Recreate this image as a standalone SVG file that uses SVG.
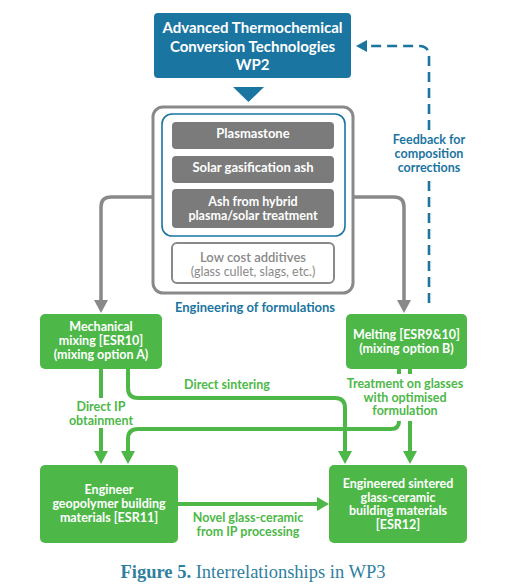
<svg xmlns="http://www.w3.org/2000/svg" width="521" height="586" viewBox="0 0 521 586">
<style>
.t{font-family:Lato,"Open Sans","Liberation Sans",sans-serif;font-weight:700;text-anchor:middle}
.w{fill:#fff;font-size:12.5px}
.g{fill:#4db848;font-size:12.5px}
.b{fill:#1b75a1;font-size:12.5px}
.green{fill:#4db848}
.gl{fill:none;stroke:#4db848;stroke-width:4}
.gr{fill:none;stroke:#898989;stroke-width:3.5}
.db{fill:none;stroke:#1b75a1;stroke-width:2.6;stroke-dasharray:10 6}
</style>
<rect width="521" height="586" fill="#fff"/>
<g id="wp2">
<rect x="154" y="13" width="197" height="65" rx="4" fill="#1b75a1"/>
<text class="t w" style="font-size:15px" x="252.5" y="33">Advanced Thermochemical</text>
<text class="t w" style="font-size:15px" x="252.5" y="52">Conversion Technologies</text>
<text class="t w" style="font-size:15px" x="252.5" y="70">WP2</text>
<polygon points="233,87 264,87 248.5,102" fill="#1b75a1"/>
</g>
<g id="formulations">
<rect x="153" y="107" width="200" height="186" rx="10" fill="#fff" stroke="#898989" stroke-width="3"/>
<rect x="162" y="114" width="183" height="122" rx="10" fill="none" stroke="#1b75a1" stroke-width="1.6"/>
<rect x="172" y="122" width="162" height="27" rx="4" fill="#7b7b7b"/>
<text class="t w" x="253" y="138" style="font-size:13px">Plasmastone</text>
<rect x="172" y="156" width="162" height="27" rx="4" fill="#7b7b7b"/>
<text class="t w" x="253" y="172" style="font-size:13px">Solar gasification ash</text>
<rect x="172" y="189" width="162" height="39" rx="4" fill="#7b7b7b"/>
<text class="t w" x="253" y="206">Ash from hybrid</text>
<text class="t w" x="253" y="220">plasma/solar treatment</text>
<rect x="172" y="243" width="162" height="40" rx="5" fill="#fff" stroke="#898989" stroke-width="2"/>
<text class="t" x="253" y="262" style="fill:#898989;font-size:13px;font-weight:600">Low cost additives</text>
<text class="t" x="253" y="276" style="fill:#898989;font-size:12.5px;font-weight:400">(glass cullet, slags, etc.)</text>
<text class="t b" x="255" y="312" style="font-size:13px">Engineering of formulations</text>
</g>
<g id="mech">
<rect x="40" y="314" width="122" height="55" rx="5" class="green"/>
<text class="t w" x="101" y="331">Mechanical</text>
<text class="t w" x="101" y="345">mixing [ESR10]</text>
<text class="t w" x="101" y="359">(mixing option A)</text>
</g>
<g id="melt">
<rect x="346" y="314" width="121" height="55" rx="5" class="green"/>
<text class="t w" x="406.5" y="339">Melting [ESR9&amp;10]</text>
<text class="t w" x="406.5" y="353">(mixing option B)</text>
</g>
<g id="esr11">
<rect x="40" y="465" width="138" height="78" rx="5" class="green"/>
<text class="t w" x="109" y="494">Engineer</text>
<text class="t w" x="109" y="508">geopolymer building</text>
<text class="t w" x="109" y="522">materials [ESR11]</text>
</g>
<g id="esr12">
<rect x="329" y="465" width="138" height="78" rx="5" class="green"/>
<text class="t w" x="398" y="488">Engineered sintered</text>
<text class="t w" x="398" y="501.5">glass-ceramic</text>
<text class="t w" x="398" y="515">building materials</text>
<text class="t w" x="398" y="528.5">[ESR12]</text>
</g>
<g id="connectors">
<path class="gr" d="M153,197 H111 Q101,197 101,207 V301"/>
<polygon points="94,300 108,300 101,313" fill="#898989"/>
<path class="gr" d="M353,197 H394 Q404,197 404,207 V301"/>
<polygon points="397,300 411,300 404,313" fill="#898989"/>
<path class="db" d="M429,303 V178"/>
<path class="db" d="M429,130 V56 Q429,46 419,46 H366"/>
<polygon points="356,46 367,40 367,52" fill="#1b75a1"/>
<text class="t b" x="429" y="144">Feedback for</text>
<text class="t b" x="429" y="158">composition</text>
<text class="t b" x="429" y="171.5">corrections</text>
<path class="gl" d="M101,369 V398"/>
<path class="gl" d="M101,428 V452"/>
<polygon points="94,451 108,451 101,464" class="green"/>
<text class="t g" x="101" y="411">Direct IP</text>
<text class="t g" x="101" y="425">obtainment</text>
<path class="gl" d="M128,369 V388 Q128,398 138,398 H335 Q345,398 345,408 V452"/>
<polygon points="338,451 352,451 345,464" class="green"/>
<text class="t g" x="227" y="389">Direct sintering</text>
<path class="gl" d="M399,369 V374"/>
<path class="gl" d="M410,369 V374"/>
<path class="gl" d="M399,421 Q399,429 391,429 H138 Q128,429 128,439 V452"/>
<polygon points="121,451 135,451 128,464" class="green"/>
<path class="gl" d="M410,421 V452"/>
<polygon points="403,451 417,451 410,464" class="green"/>
<text class="t g" x="405" y="388">Treatment on glasses</text>
<text class="t g" x="405" y="401.5">with optimised</text>
<text class="t g" x="405" y="415">formulation</text>
<path class="gl" d="M178,504 H318"/>
<polygon points="317,497 317,511 329,504" class="green"/>
<text class="t g" x="248" y="522">Novel glass-ceramic</text>
<text class="t g" x="248" y="535.5">from IP processing</text>
</g>
<text x="253" y="578" text-anchor="middle" style="font-family:'Liberation Serif','DejaVu Serif',serif;font-size:18.5px;fill:#2f7fa0"><tspan font-weight="700">Figure 5.</tspan> Interrelationships in WP3</text>
</svg>
